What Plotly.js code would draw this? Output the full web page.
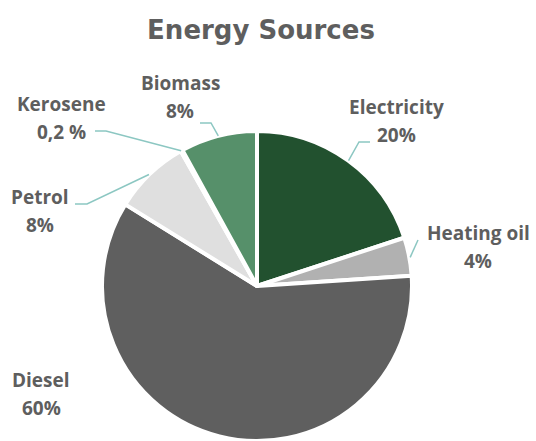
<!DOCTYPE html>
<html>
<head>
<meta charset="utf-8">
<script src="https://cdn.plot.ly/plotly-3.0.1.min.js"></script>
<style>html,body{margin:0;padding:0;background:#fff;}#chart{width:536px;height:441px;}</style>
</head>
<body>
<div id="chart"></div>
<script>
// ---- data ----
const labels = ['Electricity', 'Heating oil', 'Diesel', 'Petrol', 'Kerosene', 'Biomass'];
const values = [20, 4, 60, 8, 0.2, 8];
const valueText = ['20%', '4%', '60%', '8%', '0,2 %', '8%'];
const colors = ['#22512f', '#b1b1b1', '#5f5f5f', '#dfdfdf', '#cfcfcf', '#56906a'];

// ---- layout (pixels) ----
const W = 536, H = 441;
const cx = 257, cy = 287, R = 155;
const lineGap = 14;
// label block centers
const labelPos = [[396, 121], [478, 247], [41, 394], [40, 211], [61, 118], [180, 97]];
// leader knees / ends (null = no leader)
const leaderKnee = [[359, 142], [418, 240], null, [87, 204], [106, 131], [211, 123]];
const leaderEnd  = [[370, 142], [418, 240], null, [75, 204], [95, 131], [200, 123]];

const px = x => x / W;
const py = y => 1 - y / H;

const total = values.reduce((a, b) => a + b, 0);
let cum = 0;
const annotations = [];
const shapes = [];
const font = {family: '"Open Sans", sans-serif', size: 19, color: '#5e5e5e'};
values.forEach((v, i) => {
  const mid = (cum + v / 2) / total;
  cum += v;
  const ang = mid * 2 * Math.PI;
  const ex = cx + (R + 1) * Math.sin(ang);
  const ey = cy - (R + 1) * Math.cos(ang);
  [[labels[i], -lineGap], [valueText[i], lineGap]].forEach(([t, dy]) => {
    annotations.push({
      x: px(labelPos[i][0]), y: py(labelPos[i][1] + dy), xref: 'paper', yref: 'paper',
      xanchor: 'center', yanchor: 'middle', showarrow: false, align: 'center',
      text: '<b>' + t + '</b>', font: font
    });
  });
  if (leaderKnee[i]) {
    const k = leaderKnee[i], e = leaderEnd[i];
    shapes.push({
      type: 'path', xref: 'paper', yref: 'paper',
      path: `M ${px(ex)} ${py(ey)} L ${px(k[0])} ${py(k[1])} L ${px(e[0])} ${py(e[1])}`,
      line: {color: '#8cc7c2', width: 1.5}
    });
  }
});

const ydom = [0, 2 * R / H];
const xdom = [(cx - R - 40) / W, (cx + R + 40) / W];

const trace = {
  type: 'pie',
  labels: labels,
  values: values,
  sort: false,
  direction: 'clockwise',
  rotation: 0,
  textinfo: 'none',
  hoverinfo: 'label+percent',
  marker: {colors: colors, line: {color: '#ffffff', width: 4}},
  domain: {x: xdom, y: ydom},
  showlegend: false
};

const layout = {
  width: W, height: H,
  margin: {l: 0, r: 0, t: 0, b: 0},
  paper_bgcolor: '#ffffff',
  showlegend: false,
  title: {
    text: '<b>Energy Sources</b>',
    font: {family: '"DejaVu Sans", sans-serif', size: 26, color: '#5e5e5e'},
    x: 261 / W, xanchor: 'center', y: py(30), yanchor: 'middle', xref: 'paper', yref: 'paper'
  },
  annotations: annotations,
  shapes: shapes
};

Plotly.newPlot('chart', [trace], layout, {displayModeBar: false, staticPlot: true});
</script>
</body>
</html>
